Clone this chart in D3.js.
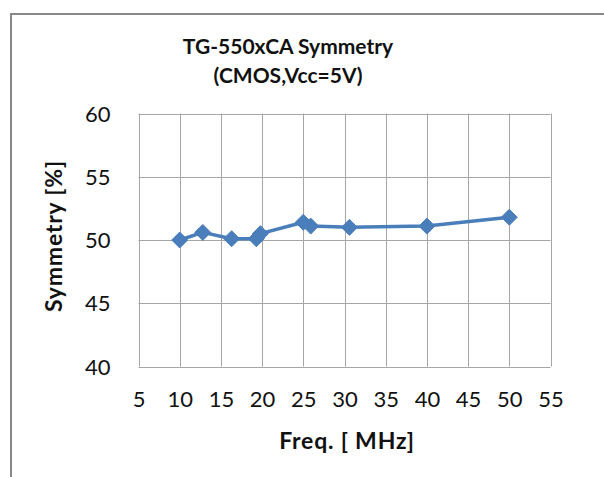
<!DOCTYPE html>
<html>
<head>
<meta charset="utf-8">
<script src="https://cdn.jsdelivr.net/npm/d3@7"></script>
<style>
  body { margin: 0; background: #fff; }
  svg { display: block; font-family: Lato, "Open Sans", sans-serif; }
</style>
</head>
<body>
<svg width="604" height="477"></svg>
<script>
// measured points (MHz, %)
const freq = [10, 12.8, 16.3, 19.3, 19.8, 25, 25.9, 30.6, 40, 50];
const symmetry = [50.0, 50.6, 50.1, 50.1, 50.5, 51.4, 51.1, 51.0, 51.1, 51.8];
const xTicks = [5, 10, 15, 20, 25, 30, 35, 40, 45, 50, 55];
const yTicks = [40, 45, 50, 55, 60];
const titleLines = ["TG-550xCA Symmetry", "(CMOS,Vcc=5V)"];

const svg = d3.select("svg");

// outer chart frame (runs off the right and bottom edges)
svg.append("rect")
    .attr("x", 11).attr("y", 14)
    .attr("width", 700).attr("height", 600)
    .attr("fill", "none")
    .attr("stroke", "#888")
    .attr("stroke-width", 2);

const plot = { left: 138.5, top: 113.5, right: 550.5, bottom: 366.5 };

const x = d3.scaleLinear().domain([5, 55]).range([plot.left, plot.right]);
const y = d3.scaleLinear().domain([40, 60]).range([plot.bottom, plot.top]);

// grid
const grid = svg.append("g").attr("stroke", "#a6a6a6").attr("stroke-width", 1);
grid.selectAll(".vx").data(xTicks).join("line")
    .attr("x1", d => Math.round(x(d)) + 0.5).attr("x2", d => Math.round(x(d)) + 0.5)
    .attr("y1", plot.top).attr("y2", plot.bottom);
grid.selectAll(".hy").data(yTicks).join("line")
    .attr("x1", plot.left).attr("x2", plot.right)
    .attr("y1", d => Math.round(y(d)) + 0.5).attr("y2", d => Math.round(y(d)) + 0.5);

// tick labels via d3 axes, lines hidden
const xAxis = svg.append("g")
    .attr("transform", `translate(0,${plot.bottom + 22})`)
    .call(d3.axisBottom(x).tickValues(xTicks).tickSize(0));
xAxis.select(".domain").remove();
xAxis.selectAll("text").attr("font-size", 22).attr("fill", "#111")
    .attr("font-family", "Lato, sans-serif");

const yAxis = svg.append("g")
    .attr("transform", `translate(${plot.left - 25},0)`)
    .call(d3.axisLeft(y).tickValues(yTicks).tickSize(0));
yAxis.select(".domain").remove();
yAxis.selectAll("text").attr("font-size", 22).attr("fill", "#111")
    .attr("font-family", "Lato, sans-serif").attr("dy", "0.35em");

// series line
const line = d3.line().x((d, i) => x(freq[i])).y(d => y(d));
svg.append("path")
    .datum(symmetry)
    .attr("d", line)
    .attr("fill", "none")
    .attr("stroke", "#4a7ebb")
    .attr("stroke-width", 3.5)
    .attr("stroke-linejoin", "round");

// diamond markers
svg.selectAll(".mk").data(symmetry).join("path")
    .attr("d", "M0,-8 L8,0 L0,8 L-8,0 Z")
    .attr("transform", (d, i) => `translate(${x(freq[i])},${y(d)})`)
    .attr("fill", "#4a7ebb")
    .attr("stroke", "#4a7ebb")
    .attr("stroke-width", 1);

// title
svg.selectAll(".title").data(titleLines).join("text")
    .attr("x", 288).attr("y", (d, i) => 47 + i * 29)
    .attr("dy", "0.35em")
    .attr("text-anchor", "middle")
    .attr("font-size", 21).attr("font-weight", "bold")
    .attr("fill", "#111")
    .text(d => d);

// axis titles
svg.append("text")
    .attr("x", 347).attr("y", 441).attr("dy", "0.35em")
    .attr("text-anchor", "middle")
    .attr("font-size", 23).attr("font-weight", "bold").attr("fill", "#111")
    .attr("letter-spacing", 0.8)
    .text("Freq. [ MHz]");

svg.append("text")
    .attr("transform", "translate(54,236) rotate(-90)")
    .attr("dy", "0.35em")
    .attr("text-anchor", "middle")
    .attr("font-size", 23).attr("font-weight", "bold").attr("fill", "#111")
    .attr("letter-spacing", 0.8)
    .text("Symmetry [%]");
</script>
</body>
</html>
